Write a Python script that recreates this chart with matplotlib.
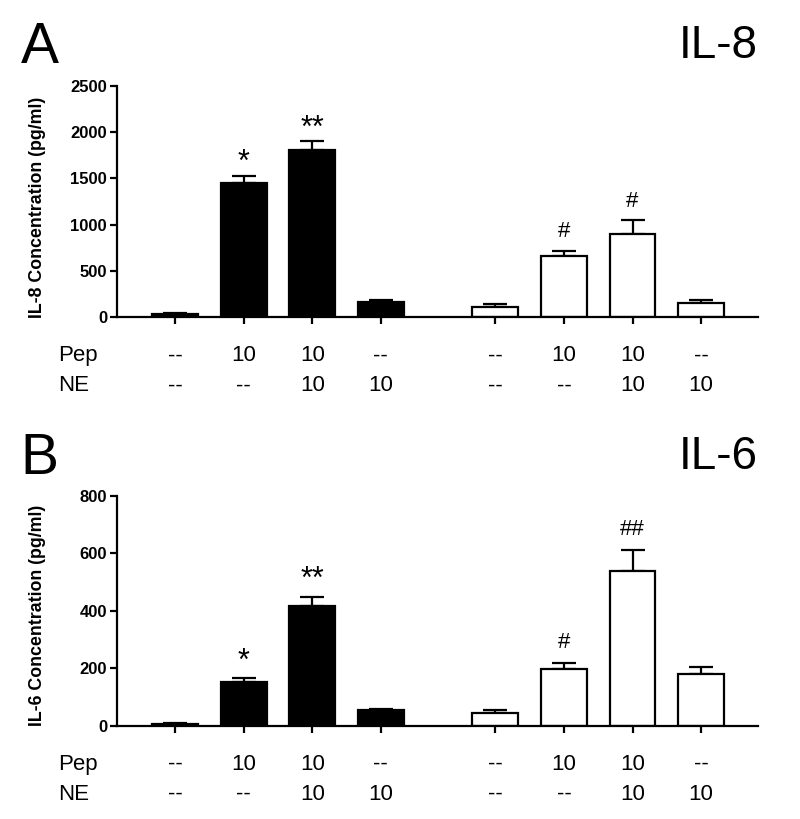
import matplotlib
matplotlib.use("Agg")
import matplotlib.pyplot as plt
from matplotlib.transforms import blended_transform_factory

plt.rcParams['font.family'] = ['Liberation Sans', 'DejaVu Sans']

positions = [0, 1, 2, 3, 4.67, 5.67, 6.67, 7.67]
pep_labels = ['--', '10', '10', '--', '--', '10', '10', '--']
ne_labels = ['--', '--', '10', '10', '--', '--', '10', '10']
fill_colors = ['black'] * 4 + ['white'] * 4

il8_values = [30, 1450, 1810, 160, 105, 655, 900, 155]
il8_errors = [10, 80, 90, 20, 30, 60, 150, 30]
il8_marks = ['', '*', '**', '', '', '#', '#', '']

il6_values = [8, 154, 417, 56, 46, 198, 540, 181]
il6_errors = [2, 12, 30, 3, 10, 22, 72, 23]
il6_marks = ['', '*', '**', '', '', '#', '##', '']

fig = plt.figure(figsize=(8, 8.19), dpi=100)

def panel(rect, values, errors, marks, ymax, ystep, ylabel, ylab_y, mark_offsets):
    ax = fig.add_axes(rect)
    ax.bar(positions, values, width=0.67, color=fill_colors, edgecolor='black', linewidth=1.6, zorder=2)
    ax.errorbar(positions, values, yerr=[[0] * len(values), errors], fmt='none',
                ecolor='black', elinewidth=1.6, capsize=8.3, capthick=1.6, zorder=1)
    ax.set_xlim(-0.85, 8.5)
    ax.set_ylim(0, ymax)
    ax.set_yticks(range(0, ymax + 1, ystep))
    ax.set_xticks(positions)
    ax.set_xticklabels([])
    for s in ['top', 'right']:
        ax.spines[s].set_visible(False)
    for s in ['left', 'bottom']:
        ax.spines[s].set_linewidth(1.6)
    ax.tick_params(axis='both', direction='out', length=5, width=1.6)
    ax.tick_params(axis='y', pad=2)
    for lab in ax.get_yticklabels():
        lab.set_fontweight('bold')
        lab.set_fontsize(12)
    ax.text(-0.123, ylab_y, ylabel, transform=ax.transAxes, rotation=90,
            ha='center', va='center', fontsize=12.8, fontweight='bold')
    for x, v, e, m, off in zip(positions, values, errors, marks, mark_offsets):
        if m:
            fs = 22 if m.startswith('*') else 16
            ax.text(x, v + e + off, m, ha='center', va='baseline', fontsize=fs)
    tr = blended_transform_factory(ax.transData, ax.transAxes)
    for x, p, n in zip(positions, pep_labels, ne_labels):
        ax.text(x, -0.168, p, transform=tr, ha='center', va='center', fontsize=16)
        ax.text(x, -0.298, n, transform=tr, ha='center', va='center', fontsize=16)
    ax.text(-0.092, -0.168, 'Pep', transform=ax.transAxes, ha='left', va='center', fontsize=16)
    ax.text(-0.092, -0.298, 'NE', transform=ax.transAxes, ha='left', va='center', fontsize=16)
    return ax

panel([0.146, 0.613, 0.8015, 0.282], il8_values, il8_errors, il8_marks, 2500, 500,
      'IL-8 Concentration (pg/ml)', 0.474, [53, 53, 51, 0, 0, 150, 140, 0])
panel([0.146, 0.1136, 0.8015, 0.2808], il6_values, il6_errors, il6_marks, 800, 200,
      'IL-6 Concentration (pg/ml)', 0.48, [30, 30, 33, 0, 0, 51, 52, 0])

fig.text(0.026, 0.923, 'A', ha='left', va='baseline', fontsize=41)
fig.text(0.947, 0.929, 'IL-8', ha='right', va='baseline', fontsize=33)
fig.text(0.026, 0.4212, 'B', ha='left', va='baseline', fontsize=41)
fig.text(0.947, 0.4274, 'IL-6', ha='right', va='baseline', fontsize=33)

fig.savefig('out.png', dpi=100)
